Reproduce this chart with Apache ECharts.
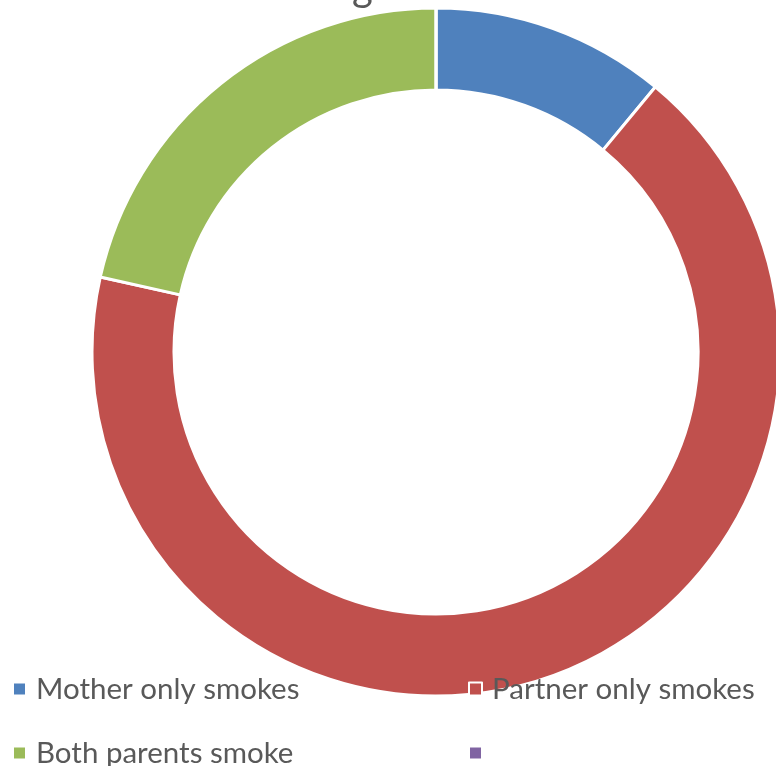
<!DOCTYPE html>
<html>
<head>
<meta charset="utf-8">
<script src="https://cdn.jsdelivr.net/npm/echarts@6/dist/echarts.min.js"></script>
<style>html,body{margin:0;padding:0;background:#fff}#c{width:776px;height:766px}</style>
</head>
<body>
<div id="c"></div>
<script>
const categories = ['Mother only smokes', 'Partner only smokes', 'Both parents smoke', ' '];
const values = [11, 67.5, 21.5, 0];
const colors = ['#4F81BD', '#C0504D', '#9BBB59', '#8064A2'];
const titleFragment = 'g';

const chart = echarts.init(document.getElementById('c'), null, {renderer: 'canvas'});
const font = 'Lato, "Open Sans", sans-serif';
const legendText = {fontFamily: font, fontSize: 29.5, color: '#595959', padding: [0, 0, 0, 5]};
const legendPos = [[12, 674], [468, 674], [12, 738], [468, 738]];
chart.setOption({
  animation: false,
  graphic: [{
    type: 'text', z: -1,
    style: {text: titleFragment, x: 352, y: 8, verticalAlign: 'bottom', font: '40px ' + font, fill: '#595959'}
  }],
  legend: categories.map((n, i) => ({
    data: [n], left: legendPos[i][0], top: legendPos[i][1], padding: 0,
    itemWidth: 13, itemHeight: 13, textStyle: legendText, icon: 'rect', selectedMode: false, z: 10
  })),
  series: [{
    type: 'pie',
    center: [436, 352],
    radius: [262, 344],
    startAngle: 90,
    clockwise: true,
    label: {show: false},
    labelLine: {show: false},
    emphasis: {disabled: true},
    itemStyle: {borderColor: '#fff', borderWidth: 3},
    data: categories.map((n, i) => ({name: n, value: values[i], itemStyle: {color: colors[i]}}))
  }]
});
</script>
</body>
</html>
